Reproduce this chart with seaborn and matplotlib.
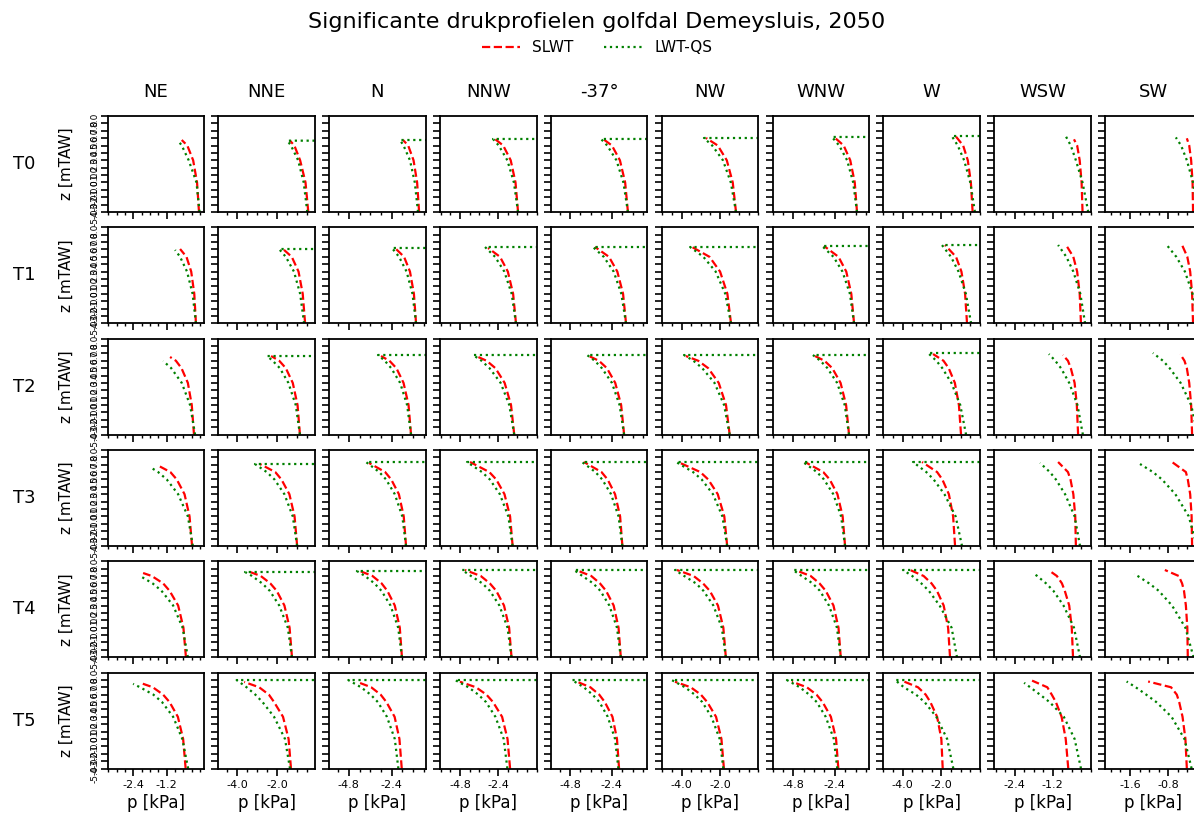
import matplotlib
matplotlib.use('Agg')
import matplotlib.pyplot as plt
import seaborn as sns
from matplotlib.ticker import FixedLocator, MultipleLocator, FormatStrFormatter
from matplotlib.lines import Line2D

sns.set_style('ticks')
plt.rcParams['font.family'] = ['DejaVu Sans']
plt.rcParams['text.color'] = 'black'
plt.rcParams['axes.labelcolor'] = 'black'
plt.rcParams['xtick.color'] = 'black'
plt.rcParams['ytick.color'] = 'black'

directions = ['NE', 'NNE', 'N', 'NNW', '-37°', 'NW', 'WNW', 'W', 'WSW', 'SW']
periods = ['T0', 'T1', 'T2', 'T3', 'T4', 'T5']

x_limits = [(-3.33, 0.14), (-4.95, -0.1), (-5.9, -0.5), (-6.05, 0.0), (-5.9, -0.35),
            (-5.03, 0.0), (-6.0, -0.42), (-5.0, 0.0), (-3.04, 0.0), (-2.12, -0.1)]
x_ticks = [[-2.4, -1.2], [-4.0, -2.0], [-4.8, -2.4], [-4.8, -2.4], [-4.8, -2.4],
           [-4.0, -2.0], [-4.8, -2.4], [-4.0, -2.0], [-2.4, -1.2], [-1.6, -0.8]]
# LWT-QS jumps back to 0 kPa at its top level in these directions
qs_to_zero = [False, True, True, True, True, True, True, True, False, False]

# z levels (mTAW) where p was read; last p of each list is the value at the top level
z_levels_T0 = [-5, -1, 2, 4]
z_levels_T1 = [-5, -1, 2, 4]
z_levels_T2 = [-5, -1, 2, 4, 5]
z_levels_T3 = [-5, -1, 2, 4, 5]
z_levels_T4 = [-5, -1, 2, 4, 5, 6]
z_levels_T5 = [-5, -1, 2, 4, 5, 6]

# ---- SLWT, p [kPa] ----
slwt_T0 = [[-0.04, -0.11, -0.25, -0.46, -0.66], [-0.43, -0.57, -0.84, -1.13, -1.35],
           [-0.87, -0.98, -1.18, -1.48, -1.77], [-1.16, -1.32, -1.62, -2.09, -2.61],
           [-1.47, -1.63, -1.93, -2.39, -2.90], [-1.16, -1.33, -1.64, -2.11, -2.72],
           [-1.12, -1.25, -1.51, -1.89, -2.45], [-0.38, -0.47, -0.63, -0.87, -1.24],
           [-0.26, -0.29, -0.35, -0.43, -0.53], [-0.28, -0.29, -0.32, -0.36, -0.41]]
slwt_T1 = [[-0.15, -0.21, -0.32, -0.49, -0.72], [-0.59, -0.71, -0.92, -1.26, -1.70],
           [-1.04, -1.16, -1.38, -1.71, -2.22], [-1.29, -1.47, -1.80, -2.29, -3.04],
           [-1.58, -1.75, -2.08, -2.56, -3.36], [-1.42, -1.61, -1.99, -2.54, -3.45],
           [-1.29, -1.45, -1.74, -2.19, -3.03], [-0.67, -0.77, -0.96, -1.24, -1.81],
           [-0.31, -0.35, -0.43, -0.55, -0.78], [-0.28, -0.30, -0.34, -0.40, -0.51]]
slwt_T2 = [[-0.22, -0.30, -0.44, -0.67, -0.87, -1.08], [-0.85, -0.97, -1.21, -1.56, -1.89, -2.30],
           [-1.32, -1.46, -1.74, -2.14, -2.53, -3.00], [-1.40, -1.60, -2.00, -2.58, -3.13, -3.80],
           [-1.69, -1.86, -2.20, -2.68, -3.14, -3.71], [-1.49, -1.68, -2.06, -2.61, -3.13, -3.77],
           [-1.58, -1.75, -2.07, -2.55, -3.00, -3.55], [-0.98, -1.09, -1.30, -1.62, -1.89, -2.43],
           [-0.40, -0.44, -0.51, -0.63, -0.72, -0.88], [-0.30, -0.32, -0.36, -0.41, -0.46, -0.55]]
slwt_T3 = [[-0.29, -0.38, -0.56, -0.84, -1.07, -1.55], [-0.99, -1.12, -1.38, -1.78, -2.09, -2.86],
           [-1.60, -1.73, -2.00, -2.43, -2.77, -3.67], [-1.50, -1.66, -2.01, -2.53, -2.96, -4.17],
           [-1.79, -1.92, -2.21, -2.64, -2.99, -4.00], [-1.62, -1.77, -2.11, -2.61, -3.02, -4.18],
           [-1.81, -1.95, -2.25, -2.70, -3.07, -4.13], [-1.29, -1.39, -1.61, -1.95, -2.22, -3.00],
           [-0.47, -0.49, -0.55, -0.64, -0.72, -1.03], [-0.30, -0.31, -0.34, -0.39, -0.43, -0.72]]
slwt_T4 = [[-0.51, -0.60, -0.79, -1.10, -1.33, -1.74, -2.05], [-1.25, -1.37, -1.63, -2.02, -2.34, -2.82, -3.36],
           [-1.83, -1.95, -2.23, -2.65, -2.97, -3.48, -4.18], [-1.57, -1.72, -2.04, -2.53, -2.93, -3.50, -4.49],
           [-1.88, -2.01, -2.29, -2.73, -3.08, -3.58, -4.46], [-1.69, -1.82, -2.10, -2.53, -2.88, -3.37, -4.24],
           [-2.06, -2.19, -2.48, -2.93, -3.29, -3.80, -4.70], [-1.55, -1.65, -1.88, -2.23, -2.51, -2.92, -3.62],
           [-0.56, -0.60, -0.68, -0.82, -0.91, -1.07, -1.29], [-0.39, -0.40, -0.43, -0.47, -0.51, -0.58, -0.87]]
slwt_T5 = [[-0.52, -0.61, -0.80, -1.10, -1.33, -1.70, -2.15], [-1.30, -1.42, -1.70, -2.15, -2.41, -2.90, -3.65],
           [-1.84, -1.97, -2.24, -2.70, -3.02, -3.55, -4.36], [-1.66, -1.82, -2.16, -2.73, -3.14, -3.80, -4.80],
           [-1.98, -2.10, -2.36, -2.80, -3.12, -3.63, -4.40], [-1.79, -1.92, -2.20, -2.66, -2.99, -3.52, -4.34],
           [-2.20, -2.33, -2.63, -3.11, -3.46, -4.02, -4.88], [-1.93, -2.00, -2.22, -2.57, -2.81, -3.21, -4.05],
           [-0.71, -0.79, -0.92, -1.10, -1.23, -1.37, -1.85], [-0.41, -0.44, -0.50, -0.57, -0.62, -0.74, -1.22]]

slwt_ztop_T0 = [4.75, 4.66, 4.75, 4.89, 4.89, 5.02, 5.16, 5.20, 4.84, 4.98]
slwt_ztop_T1 = [5.06, 5.06, 5.20, 5.20, 5.33, 5.33, 5.47, 5.60, 5.60, 5.60]
slwt_ztop_T2 = [5.51, 5.64, 5.64, 5.64, 5.64, 5.64, 5.64, 5.91, 5.78, 5.91]
slwt_ztop_T3 = [5.96, 6.09, 6.23, 6.36, 6.36, 6.36, 6.36, 6.36, 6.36, 6.36]
slwt_ztop_T4 = [6.40, 6.54, 6.67, 6.81, 6.81, 6.81, 6.81, 6.81, 6.67, 6.81]
slwt_ztop_T5 = [6.60, 6.72, 6.75, 6.75, 6.75, 6.75, 6.75, 6.90, 6.90, 6.78]

# ---- LWT-QS, p [kPa] (None = level above the top) ----
lwt_T0 = [[-0.02, -0.13, -0.41, -0.66, -0.76], [-0.48, -0.66, -0.94, -1.30, -1.48],
          [-0.93, -1.11, -1.38, -1.74, -1.94], [-1.16, -1.42, -1.83, -2.37, -2.73],
          [-1.47, -1.73, -2.13, -2.66, -3.02], [-1.16, -1.43, -1.84, -2.40, -2.83],
          [-1.12, -1.34, -1.69, -2.15, -2.57], [-0.26, -0.50, -0.82, -1.15, -1.46],
          [-0.08, -0.26, -0.47, -0.63, -0.78], [-0.18, -0.28, -0.41, -0.53, -0.64]]
lwt_T1 = [[-0.15, -0.27, -0.47, -0.72, -0.90], [-0.64, -0.84, -1.15, -1.56, -1.90],
          [-1.04, -1.24, -1.57, -1.99, -2.39], [-1.29, -1.56, -2.02, -2.60, -3.23],
          [-1.58, -1.85, -2.29, -2.86, -3.48], [-1.42, -1.72, -2.22, -2.86, -3.55],
          [-1.29, -1.53, -1.96, -2.48, -3.14], [-0.46, -0.73, -1.11, -1.50, -1.97],
          [-0.18, -0.33, -0.55, -0.77, -1.03], [-0.17, -0.29, -0.45, -0.63, -0.83]]
lwt_T2 = [[-0.18, -0.36, -0.66, -1.04, None, -1.33], [-0.85, -1.06, -1.43, -1.86, -2.22, -2.50],
          [-1.32, -1.54, -1.93, -2.43, -2.79, -3.17], [-1.40, -1.71, -2.25, -2.95, -3.45, -3.98],
          [-1.69, -1.95, -2.39, -2.97, -3.38, -3.82], [-1.49, -1.78, -2.28, -2.92, -3.38, -3.87],
          [-1.58, -1.83, -2.27, -2.83, -3.24, -3.67], [-0.72, -1.02, -1.48, -1.95, -2.26, -2.69],
          [-0.25, -0.42, -0.68, -0.94, -1.12, -1.32], [-0.18, -0.32, -0.54, -0.77, -0.91, -1.12]]
lwt_T3 = [[-0.26, -0.44, -0.79, -1.20, -1.51, -1.80], [-0.99, -1.21, -1.63, -2.13, -2.52, -3.11],
          [-1.60, -1.81, -2.23, -2.72, -3.10, -3.84], [-1.50, -1.77, -2.30, -2.93, -3.42, -4.36],
          [-1.79, -2.01, -2.44, -2.95, -3.34, -4.11], [-1.62, -1.87, -2.36, -2.95, -3.40, -4.28],
          [-1.81, -2.04, -2.49, -3.03, -3.44, -4.24], [-0.93, -1.26, -1.84, -2.40, -2.78, -3.47],
          [-0.34, -0.51, -0.81, -1.10, -1.29, -1.60], [-0.20, -0.37, -0.65, -0.93, -1.12, -1.39]]
lwt_T4 = [[-0.44, -0.63, -0.97, -1.39, -1.71, None, -2.16], [-1.25, -1.46, -1.89, -2.37, -2.75, -3.26, -3.61],
          [-1.83, -2.04, -2.47, -2.98, -3.37, -3.90, -4.35], [-1.57, -1.82, -2.33, -2.93, -3.40, -4.11, -4.67],
          [-1.88, -2.10, -2.54, -3.06, -3.47, -4.09, -4.57], [-1.69, -1.90, -2.34, -2.86, -3.25, -3.86, -4.34],
          [-2.06, -2.28, -2.74, -3.27, -3.69, -4.32, -4.82], [-1.19, -1.47, -2.09, -2.65, -3.04, -3.51, -3.99],
          [-0.34, -0.53, -0.86, -1.18, -1.41, -1.69, -1.82], [-0.27, -0.44, -0.72, -1.00, -1.20, -1.44, -1.51]]
lwt_T5 = [[-0.43, -0.64, -0.97, -1.37, -1.68, -2.16, -2.41], [-1.35, -1.60, -2.15, -2.73, -3.09, -3.53, -4.03],
          [-2.03, -2.23, -2.67, -3.18, -3.58, -4.12, -4.83], [-1.83, -2.06, -2.58, -3.17, -3.65, -4.27, -5.11],
          [-2.02, -2.21, -2.63, -3.11, -3.50, -4.01, -4.69], [-1.82, -2.01, -2.44, -2.92, -3.31, -3.82, -4.51],
          [-2.26, -2.46, -2.93, -3.45, -3.88, -4.43, -5.17], [-1.38, -1.70, -2.26, -2.87, -3.31, -3.94, -4.40],
          [-0.31, -0.51, -0.85, -1.30, -1.60, -1.91, -2.10], [-0.31, -0.46, -0.73, -1.05, -1.26, -1.48, -1.67]]

lwt_ztop_T0 = [4.52, 4.66, 4.75, 4.89, 4.89, 5.02, 5.16, 5.29, 5.20, 5.10]
lwt_ztop_T1 = [4.93, 5.06, 5.20, 5.33, 5.33, 5.33, 5.47, 5.60, 5.60, 5.60]
lwt_ztop_T2 = [4.97, 5.64, 5.78, 5.78, 5.78, 5.78, 5.78, 6.05, 5.91, 6.05]
lwt_ztop_T3 = [5.68, 6.09, 6.36, 6.36, 6.36, 6.36, 6.36, 6.36, 6.23, 6.09]
lwt_ztop_T4 = [6.00, 6.54, 6.67, 6.81, 6.81, 6.81, 6.81, 6.81, 6.40, 6.27]
lwt_ztop_T5 = [6.46, 6.98, 6.98, 6.98, 6.98, 6.98, 6.98, 6.98, 6.60, 6.78]

z_levels = [z_levels_T0, z_levels_T1, z_levels_T2, z_levels_T3, z_levels_T4, z_levels_T5]
slwt_rows = [slwt_T0, slwt_T1, slwt_T2, slwt_T3, slwt_T4, slwt_T5]
slwt_ztops = [slwt_ztop_T0, slwt_ztop_T1, slwt_ztop_T2, slwt_ztop_T3, slwt_ztop_T4, slwt_ztop_T5]
lwt_rows = [lwt_T0, lwt_T1, lwt_T2, lwt_T3, lwt_T4, lwt_T5]
lwt_ztops = [lwt_ztop_T0, lwt_ztop_T1, lwt_ztop_T2, lwt_ztop_T3, lwt_ztop_T4, lwt_ztop_T5]


def profile(levels, pvals, ztop):
    zs = [z for z, p in zip(levels, pvals[:-1]) if p is not None] + [ztop]
    ps = [p for p in pvals[:-1] if p is not None] + [pvals[-1]]
    return ps, zs


W, H = 1194, 818
fig = plt.figure(figsize=(W / 100, H / 100), dpi=100)

ax_left, ax_pitch_x, ax_w = 107.5, 110.85, 96.5
ax_top, ax_pitch_y, ax_h = 116, 111.3, 96

for r, period in enumerate(periods):
    for c, direction in enumerate(directions):
        x0 = ax_left + c * ax_pitch_x
        y0 = ax_top + r * ax_pitch_y
        ax = fig.add_axes([x0 / W, 1 - (y0 + ax_h) / H, ax_w / W, ax_h / H])

        p_s, z_s = profile(z_levels[r], slwt_rows[r][c], slwt_ztops[r][c])
        p_q, z_q = profile(z_levels[r], lwt_rows[r][c], lwt_ztops[r][c])
        if qs_to_zero[c]:
            p_q = p_q + [0.0]
            z_q = z_q + [lwt_ztops[r][c]]

        sns.lineplot(x=p_s, y=z_s, sort=False, estimator=None, ax=ax,
                     color='red', linestyle='--', linewidth=1.6)
        sns.lineplot(x=p_q, y=z_q, sort=False, estimator=None, ax=ax,
                     color='green', linestyle=':', linewidth=1.6)

        ax.set_xlim(x_limits[c])
        ax.set_ylim(-5, 8)
        ax.set_xlabel('')
        ax.set_ylabel('')

        ax.xaxis.set_major_locator(FixedLocator(x_ticks[c]))
        ax.xaxis.set_minor_locator(MultipleLocator((x_ticks[c][1] - x_ticks[c][0]) / 4))
        ax.xaxis.set_major_formatter(FormatStrFormatter('%.1f'))
        ax.yaxis.set_major_locator(MultipleLocator(1.0))
        ax.yaxis.set_major_formatter(FormatStrFormatter('%.1f'))
        ax.tick_params(axis='both', which='major', length=5, width=1.2, direction='out')
        ax.tick_params(axis='x', which='minor', length=2.5, width=1.0, direction='out')
        ax.tick_params(axis='x', labelsize=8)
        for sp in ax.spines.values():
            sp.set_linewidth(1.3)
            sp.set_color('black')

        if c == 0:
            ax.tick_params(axis='y', labelsize=6.5, labelrotation=90, pad=1)
            ax.set_ylabel('z [mTAW]', fontsize=11, labelpad=12)
        else:
            ax.tick_params(axis='y', labelleft=False)
        if r == len(periods) - 1:
            ax.set_xlabel('p [kPa]', fontsize=12, labelpad=3)
        else:
            ax.tick_params(axis='x', labelbottom=False)
        if r == 0:
            ax.set_title(direction, fontsize=13, pad=14)
    fig.text(24 / W, 1 - (ax_top + r * ax_pitch_y + ax_h / 2) / H, period,
             fontsize=13, ha='center', va='center')

fig.suptitle('Significante drukprofielen golfdal Demeysluis, 2050', fontsize=16, y=0.985)
handles = [Line2D([], [], color='red', linestyle='--', linewidth=1.6),
           Line2D([], [], color='green', linestyle=':', linewidth=1.6)]
fig.legend(handles, ['SLWT', 'LWT-QS'], loc='center', bbox_to_anchor=(0.5, 0.942),
           ncol=2, frameon=False, fontsize=11, handlelength=2.5, columnspacing=2.0)

fig.savefig('out.png', dpi=100)
